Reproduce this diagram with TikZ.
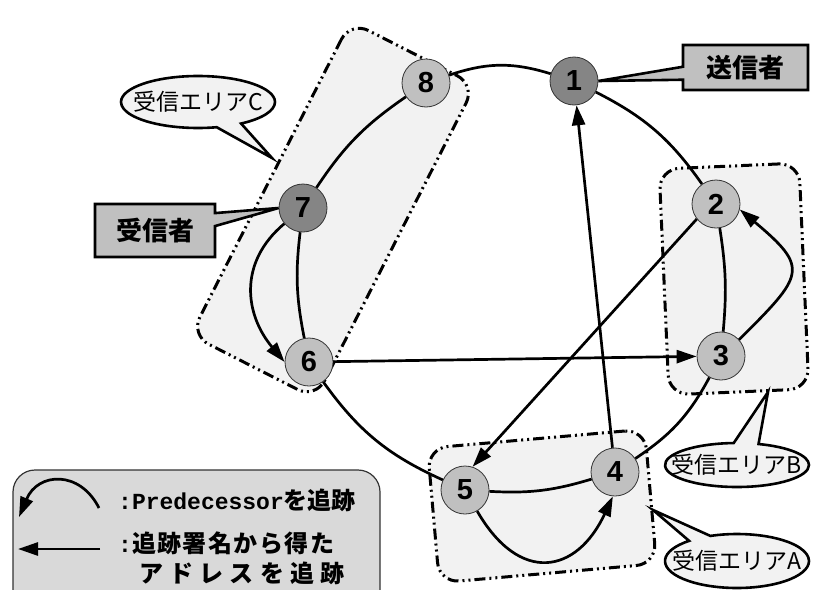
\documentclass[tikz,border=0pt]{standalone}
\usepackage{fontspec}
\setmainfont{Liberation Sans}
\newfontfamily\jp{Noto Sans CJK JP}
\newfontfamily\monob{Liberation Mono}
\usetikzlibrary{shapes.callouts,shapes.geometric,arrows.meta}
\definecolor{areafill}{HTML}{F2F2F2}
\definecolor{nodelight}{HTML}{C0C0C0}
\definecolor{nodedark}{HTML}{858585}
\definecolor{boxfill}{HTML}{C0C0C0}
\definecolor{legendfill}{HTML}{D9D9D9}
\begin{document}
\begin{tikzpicture}[x=1pt,y=1pt,
  peer/.style={circle, draw=black!80, line width=0.8pt, fill=nodelight, minimum size=48pt, inner sep=0pt, font=\fontsize{29}{29}\selectfont\bfseries},
  darkpeer/.style={peer, fill=nodedark},
  area/.style={draw=black, fill=areafill, line width=3pt, rounded corners=20pt, dash pattern=on 11pt off 4pt on 2pt off 4pt on 2pt off 4pt},
  link/.style={line width=2.7pt},
  tr/.style={line width=2.7pt, -{Triangle[length=20pt,width=13pt]}},
  tag/.style={rectangle callout, draw=black, line width=2.6pt, fill=boxfill, font=\jp\bfseries\fontsize{26}{26}\selectfont, inner sep=0pt, callout pointer width=13pt},
  bubble/.style={ellipse callout, draw=black, line width=2.6pt, fill=areafill, font=\jp\fontsize{23}{23}\selectfont, inner sep=0pt, callout pointer arc=20}
]
\useasboundingbox (0,0) rectangle (813,-589);

% receiving areas
\node[area, rotate=63, minimum width=352pt, minimum height=140pt] (areaC) at (333,-210) {};
\node[area, rotate=2.5, minimum width=140pt, minimum height=226pt] (areaB) at (734,-279) {};
\node[area, rotate=5, minimum width=218pt, minimum height=135pt] (areaA) at (542,-506) {};

% peers
\node[darkpeer] (n1) at (574,-81) {1};
\node[peer] (n2) at (716,-204) {2};
\node[peer] (n3) at (721,-356) {3};
\node[peer] (n4) at (615,-472) {4};
\node[peer] (n5) at (465,-490) {5};
\node[peer] (n6) at (309,-362) {6};
\node[darkpeer] (n7) at (303,-208) {7};
\node[peer] (n8) at (426,-83) {8};

% ring links
\draw[link] (n8) to[bend left=18] (n1);
\draw[link] (n1) to[bend left=14] (n2);
\draw[link] (n2) to[bend left=7] (n3);
\draw[link] (n3) to[bend left=14] (n4);
\draw[link] (n5) to[bend right=10] (n4);
\draw[link] (n5) to[bend left=15] (n6);
\draw[link] (n7) to[bend right=9] (n6);
\draw[link] (n8) to[bend right=11] (n7);

% tracking arrows
\draw[tr] (n3.42) to[out=45, in=-40, looseness=1.8] (n2.-13);
\draw[tr] (n5.-60) to[out=-60, in=-115, looseness=1.6] (n4.-95);
\draw[tr] (n7.220) to[out=220, in=130, looseness=1.13] (n6.west);
\draw[tr] (n4) -- (n1);
\draw[tr] (n2.218) -- (n5.72);
\draw[tr] (n6) -- (n3);

% callouts
\node[tag, minimum width=125pt, minimum height=45pt, callout absolute pointer={(n1.east)}] (sender) at (745.5,-67.5) {送信者};
\node[tag, minimum width=120pt, minimum height=53pt, callout absolute pointer={(n7.west)}] (receiver) at (155,-230.5) {受信者};
\node[bubble, minimum width=154pt, minimum height=52pt, callout absolute pointer={(272,-158)}] (labC) at (198,-102) {\makebox[0pt][c]{受信エリアC}};
\node[bubble, minimum width=144pt, minimum height=44pt, callout absolute pointer={(768,-392)}] (labB) at (737,-465) {\makebox[0pt][c]{受信エリアB}};
\node[bubble, minimum width=144pt, minimum height=54pt, callout absolute pointer={(653,-510)}] (labA) at (737,-561) {\makebox[0pt][c]{受信エリアA}};

% legend
\node[draw=black!80, line width=1.2pt, fill=legendfill, rounded corners=22pt, minimum width=367pt, minimum height=150pt, inner sep=0pt] (legend) at (196.5,-545) {};
\coordinate (la1) at (99,-508);
\coordinate (la2) at (19,-517);
\draw[tr] (la1) .. controls (80,-470) and (38,-472) .. (la2);
\coordinate (lb1) at (100,-549);
\coordinate (lb2) at (18,-549);
\draw[tr] (lb1) -- (lb2);
\node[anchor=west, inner sep=0pt] (lt1) at (118,-500) {{\monob\bfseries\fontsize{23}{23}\selectfont :Predecessor}{\jp\bfseries\fontsize{24}{24}\selectfont を追跡}};
\node[anchor=west, inner sep=0pt] (lt2) at (118,-543) {{\monob\bfseries\fontsize{23}{23}\selectfont :}{\jp\bfseries\fontsize{24}{24}\selectfont\addfontfeatures{LetterSpace=6}追跡署名から得た}};
\node[anchor=west, inner sep=0pt] (lt3) at (139,-573) {\jp\bfseries\fontsize{24}{24}\selectfont\addfontfeatures{LetterSpace=26}アドレスを追跡};
\end{tikzpicture}
\end{document}
